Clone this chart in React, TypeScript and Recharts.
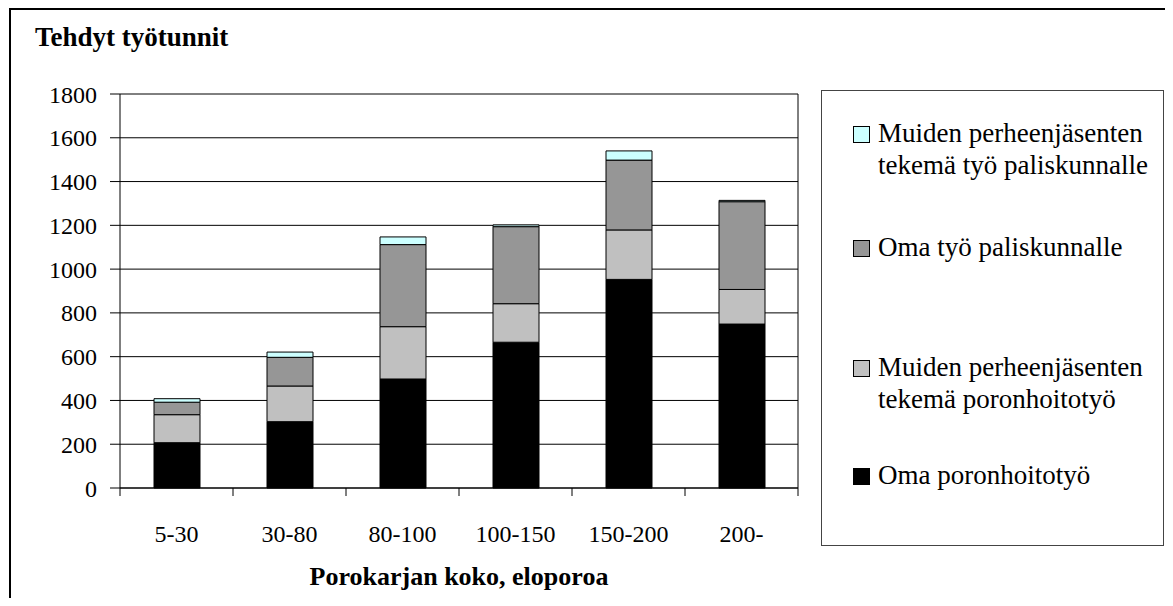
import React from 'react';
import { BarChart, Bar, XAxis, YAxis, CartesianGrid } from 'recharts';

const CATEGORIES = ['5-30', '30-80', '80-100', '100-150', '150-200', '200-'];
const OMA_PORONHOITO = [207, 303, 498, 666, 953, 749];
const MUIDEN_PORONHOITO = [128, 163, 239, 176, 226, 158];
const OMA_PALISKUNTA = [57, 131, 375, 352, 319, 401];
const MUIDEN_PALISKUNTA = [16, 24, 35, 8, 42, 6];
const Y_TICKS = [0, 200, 400, 600, 800, 1000, 1200, 1400, 1600, 1800];

const SERIES = [
  { key: 'oma', name: 'Oma poronhoitotyö', color: '#000000', values: OMA_PORONHOITO },
  { key: 'muidenHoito', name: 'Muiden perheenjäsenten tekemä poronhoitotyö', color: '#c0c0c0', values: MUIDEN_PORONHOITO },
  { key: 'omaPalis', name: 'Oma työ paliskunnalle', color: '#969696', values: OMA_PALISKUNTA },
  { key: 'muidenPalis', name: 'Muiden perheenjäsenten tekemä työ paliskunnalle', color: '#ccffff', values: MUIDEN_PALISKUNTA },
];

const data = CATEGORIES.map((c, i) => {
  const row: any = { name: c };
  SERIES.forEach((s) => (row[s.key] = s.values[i]));
  return row;
});

const FONT = "'Liberation Serif', Tinos, 'Times New Roman', Times, 'DejaVu Serif', serif";

// legend entries, top to bottom, with their line breaks as in the original
const LEGEND = [
  { color: '#ccffff', lines: ['Muiden perheenjäsenten', 'tekemä työ paliskunnalle'], top: 117 },
  { color: '#969696', lines: ['Oma työ paliskunnalle'], top: 231 },
  { color: '#c0c0c0', lines: ['Muiden perheenjäsenten', 'tekemä poronhoitotyö'], top: 351 },
  { color: '#000000', lines: ['Oma poronhoitotyö'], top: 459 },
];

const CategoryTick = (props: any) => {
  const { x, y, payload, index, visibleTicksCount, width } = props;
  const half = payload.offset ?? width / visibleTicksCount / 2;
  return (
    <g>
      <line x1={x - half} y1={y} x2={x - half} y2={y + 8} stroke="#000" />
      {index === visibleTicksCount - 1 && (
        <line x1={x + half} y1={y} x2={x + half} y2={y + 8} stroke="#000" />
      )}
      <text x={x} y={y + 37} dy="0.71em" textAnchor="middle" style={{ fontFamily: FONT }} fontSize={24} fill="#000">
        {payload.value}
      </text>
    </g>
  );
};

export default function App() {
  return (
    <div style={{ position: 'relative', margin: -8, width: 1173, height: 606, overflow: 'hidden', background: '#fff', fontFamily: FONT }}>
      <div style={{ position: 'absolute', left: 9, top: 8, width: 1200, height: 700, border: '2px solid #000' }} />
      <div style={{ position: 'absolute', left: 35, top: 21, fontSize: 27, fontWeight: 'bold', color: '#000', lineHeight: '32px' }}>
        Tehdyt työtunnit
      </div>
      <div style={{ position: 'absolute', left: 0, top: 0, fontFamily: FONT }}>
        <BarChart width={1173} height={606} data={data} margin={{ top: 94, right: 375, bottom: 78, left: 0 }} barSize={46} style={{ fontFamily: FONT }}>
          <CartesianGrid
            stroke="#000"
            vertical={true}
            verticalCoordinatesGenerator={({ offset }: any) => [offset.left + offset.width]}
          />
          <XAxis
            dataKey="name"
            height={40}
            axisLine={{ stroke: '#000' }}
            tickLine={false}
            tickSize={0}
            tickMargin={0}
            interval={0}
            tick={<CategoryTick />}
          />
          <YAxis
            width={120}
            domain={[0, 1800]}
            ticks={Y_TICKS}
            interval={0}
            axisLine={{ stroke: '#000' }}
            tickLine={{ stroke: '#000' }}
            tickSize={10}
            tickMargin={13}
            tick={{ fill: '#000', fontSize: 24, style: { fontFamily: FONT } }}
          />
          {SERIES.map((s) => (
            <Bar
              key={s.key}
              dataKey={s.key}
              name={s.name}
              stackId="a"
              fill={s.color}
              stroke="#000"
              strokeWidth={1}
              isAnimationActive={false}
            />
          ))}
        </BarChart>
      </div>
      <div style={{ position: 'absolute', left: 120, width: 678, top: 562, textAlign: 'center', fontSize: 26, fontWeight: 'bold', color: '#000', lineHeight: '30px' }}>
        Porokarjan koko, eloporoa
      </div>
      <div style={{ position: 'absolute', left: 821, top: 90, width: 343, height: 456, border: '1px solid #444', boxSizing: 'border-box' }} />
      {LEGEND.map((item, i) => (
        <div key={i} style={{ position: 'absolute', left: 853, top: item.top }}>
          <div style={{ position: 'absolute', left: 0, top: 9, width: 15, height: 15, background: item.color, border: '1px solid #000' }} />
          {item.lines.map((line, j) => (
            <div key={j} style={{ position: 'absolute', left: 25, top: j * 32, fontSize: 27, lineHeight: '32px', whiteSpace: 'nowrap', color: '#000' }}>
              {line}
            </div>
          ))}
        </div>
      ))}
    </div>
  );
}
